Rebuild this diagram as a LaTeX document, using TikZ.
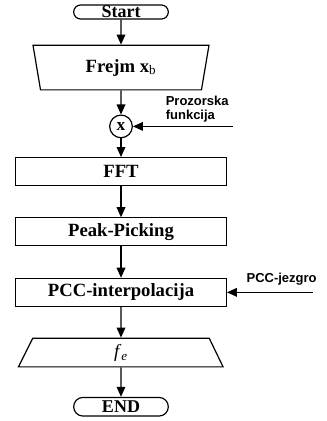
\documentclass[tikz,border=0pt]{standalone}
\usepackage{fontspec}
\setmainfont{Liberation Serif}
\newfontfamily\labelfont{Liberation Sans}
\usetikzlibrary{shapes.geometric,shapes.misc,arrows.meta,positioning}

\begin{document}
\begin{tikzpicture}[
    node distance=18pt,
    terminal/.style={rounded rectangle, draw, line width=0.9pt, minimum width=71pt, inner sep=0pt, font=\fontsize{13.5}{15}\selectfont\bfseries},
    iobox/.style={trapezium, trapezium stretches body, draw, line width=0.9pt, inner sep=0pt, font=\fontsize{14}{16}\selectfont\bfseries},
    procbox/.style={rectangle, draw, line width=0.9pt, minimum width=158pt, minimum height=21pt, inner sep=0pt, font=\fontsize{14}{16}\selectfont\bfseries},
    mult/.style={circle, draw, line width=0.9pt, minimum size=17pt, inner sep=0pt, font=\fontsize{13}{15}\selectfont\bfseries},
    sidelabel/.style={align=left, inner sep=0pt, font=\labelfont\fontsize{9.75}{10.5}\selectfont\bfseries},
    arrow/.style={-{Triangle[length=7.5pt,width=6.5pt]}, line width=0.9pt}
]
    \useasboundingbox (0,0) rectangle (244.5pt,-315.75pt);

    % main chain
    \node[terminal, minimum height=10.5pt] (start) at (90.75pt,-9pt) {Start};
    \node[iobox, trapezium left angle=114, trapezium right angle=114, minimum width=132pt, minimum height=33.5pt, below=18.75pt of start] (frame) {Frejm \textbf{x}\textsubscript{\normalfont b}};
    \node[mult, below=18pt of frame] (window) {x};
    \node[procbox, below=14pt of window] (fft) {FFT};
    \node[procbox, below=23.25pt of fft] (peak) {Peak-Picking};
    \node[procbox, below=23.5pt of peak] (pcc) {PCC-interpolacija};
    \node[iobox, trapezium left angle=50, trapezium right angle=51, minimum width=153.5pt, minimum height=21.5pt, below=23pt of pcc, font=\fontsize{14}{16}\selectfont] (freq) {\textit{f}\textsubscript{\textit{e}}};
    \node[terminal, minimum height=14pt, below=22pt of freq] (end) {END};

    % side inputs
    \coordinate[right=75pt of window] (winin);
    \node[sidelabel, above left=3pt and 3pt of winin] (winlabel) {Prozorska\\funkcija};
    \coordinate[right=64.5pt of pcc] (kernin);
    \node[sidelabel, above left=5pt and -3pt of kernin] (kernlabel) {PCC-jezgro};

    \draw[arrow] (start) -- (frame);
    \draw[arrow] (frame) -- (window);
    \draw[arrow] (window) -- (fft);
    \draw[arrow] (fft) -- (peak);
    \draw[arrow] (peak) -- (pcc);
    \draw[arrow] (pcc) -- (freq);
    \draw[arrow] (freq) -- (end);
    \draw[arrow] (winin) -- (window);
    \draw[arrow] (kernin) -- (pcc);
\end{tikzpicture}
\end{document}
